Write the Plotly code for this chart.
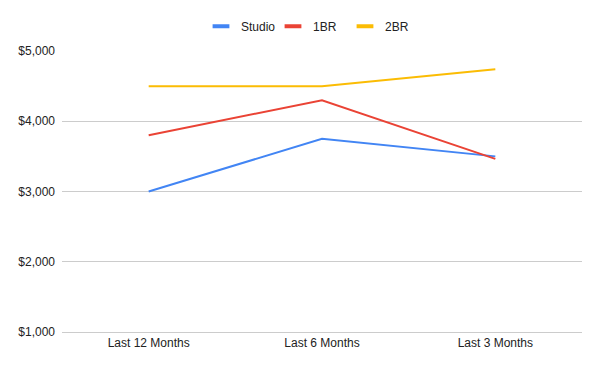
import plotly.graph_objects as go

categories = ["Last 12 Months", "Last 6 Months", "Last 3 Months"]
studio = [3000, 3750, 3500]
one_br = [3800, 4300, 3465]
two_br = [4500, 4500, 4740]
y_ticks = [1000, 2000, 3000, 4000, 5000]
y_tick_labels = ["$1,000", "$2,000", "$3,000", "$4,000", "$5,000"]
series = [("Studio", studio, "#4285F4"), ("1BR", one_br, "#EA4335"), ("2BR", two_br, "#FBBC04")]

fig = go.Figure()
for name, vals, color in series:
    fig.add_trace(go.Scatter(x=categories, y=vals, name=name, mode="lines",
                             line=dict(color=color, width=2), showlegend=False))
# legend-only entries with short thick line symbols
for name, vals, color in series:
    fig.add_trace(go.Scatter(x=[categories[0]], y=[None], name=name, mode="markers",
                             marker=dict(symbol="line-ew", size=12,
                                         line=dict(color=color, width=4)),
                             showlegend=True, hoverinfo="skip"))

fig.update_layout(
    width=600, height=371,
    margin=dict(l=54, r=26, t=43, b=47, autoexpand=False),
    paper_bgcolor="white", plot_bgcolor="white",
    font=dict(family="Liberation Sans, Arial, sans-serif", size=12, color="#222"),
    legend=dict(orientation="h", x=0.475, xanchor="center", yref="container", y=0.951, yanchor="middle",
                itemwidth=30, entrywidth=27, font=dict(size=12, color="#222")),
    showlegend=True,
)
fig.update_xaxes(type="category", range=[-0.5, 2.5], showgrid=False, showline=True,
                 linecolor="#cccccc", linewidth=1,
                 ticks="", tickfont=dict(size=12, color="#222"))
fig.update_yaxes(range=[1000, 5000], tickmode="array", tickvals=y_ticks, ticktext=y_tick_labels,
                 showgrid=True, gridcolor="#cccccc",
                 zeroline=False, showline=False, ticks="", ticklabelstandoff=6,
                 tickfont=dict(size=12, color="#222"))
fig.write_html("out.html")
